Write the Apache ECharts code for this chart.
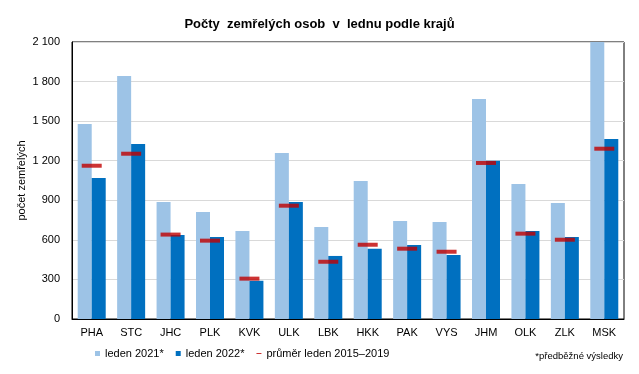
<!DOCTYPE html>
<html><head><meta charset="utf-8">
<script src="https://cdn.jsdelivr.net/npm/echarts@6/dist/echarts.min.js"></script>
<style>html,body{margin:0;padding:0;background:#fff}#c{width:639px;height:374px}</style>
</head><body><div id="c"></div>
<script>
const categories = ['PHA','STC','JHC','PLK','KVK','ULK','LBK','HKK','PAK','VYS','JHM','OLK','ZLK','MSK'];
const leden2021 = [1478,1842,887,811,667,1258,697,1046,743,735,1668,1023,879,2100];
const leden2022 = [1069,1327,637,622,290,887,478,533,561,485,1200,667,622,1365];
const prumer = [1162,1253,640,594,306,859,434,563,533,510,1183,647,601,1291];
const yTicks = [0,300,600,900,1200,1500,1800,2100];

const chart = echarts.init(document.getElementById('c'));
const font = '"Liberation Sans", Arial, sans-serif';
chart.setOption({
  animation:false,
  textStyle:{fontFamily:font},
  title:{text:'Počty  zemřelých osob  v  lednu podle krajů',left:'center',top:13,
    textStyle:{fontFamily:'"Liberation Sans Narrow","Arial Narrow","Liberation Sans",sans-serif',fontWeight:'bold',fontSize:13,color:'#000'}},
  grid:{left:72,right:15,top:42,bottom:55,show:true,borderColor:'#000',borderWidth:1,backgroundColor:'transparent'},
  xAxis:{type:'category',data:categories,
    axisLine:{lineStyle:{color:'#000'}},axisTick:{show:false},
    axisLabel:{color:'#000',fontSize:11,margin:8}},
  yAxis:{type:'value',min:yTicks[0],max:yTicks[yTicks.length-1],interval:300,
    name:'počet zemřelých',nameLocation:'middle',nameGap:45,nameRotate:90,nameMoveOverlap:false,
    nameTextStyle:{color:'#000',fontSize:11},
    axisLine:{show:true,lineStyle:{color:'#000'}},axisTick:{show:false},
    splitLine:{lineStyle:{color:'#d9d9d9'}},
    axisLabel:{color:'#000',fontSize:11,margin:12,formatter:v=>String(v).replace(/\B(?=(\d{3})+(?!\d))/g,' ')}},
  legend:{left:90,top:343,itemWidth:5,itemHeight:5,itemGap:12,textStyle:{color:'#000',fontSize:11},
    data:[{name:'leden 2021*',icon:'rect'},{name:'leden 2022*',icon:'rect'},
      {name:'průměr leden 2015–2019',icon:'path://M0,0L10,0L10,2L0,2Z'}]},
  series:[
    {name:'leden 2021*',type:'bar',data:leden2021,barWidth:14,barGap:'0%',itemStyle:{color:'#9dc3e6'}},
    {name:'leden 2022*',type:'bar',data:leden2022,barWidth:14,itemStyle:{color:'#0070c0'}},
    {name:'průměr leden 2015–2019',type:'scatter',data:prumer,symbol:'rect',symbolSize:[20,4],
      itemStyle:{color:'#c00000'},z:5}
  ],
  graphic:[{type:'text',right:16,top:351,style:{text:'*předběžné výsledky',fontSize:9.5,fill:'#000',fontFamily:font}}]
});
</script></body></html>
